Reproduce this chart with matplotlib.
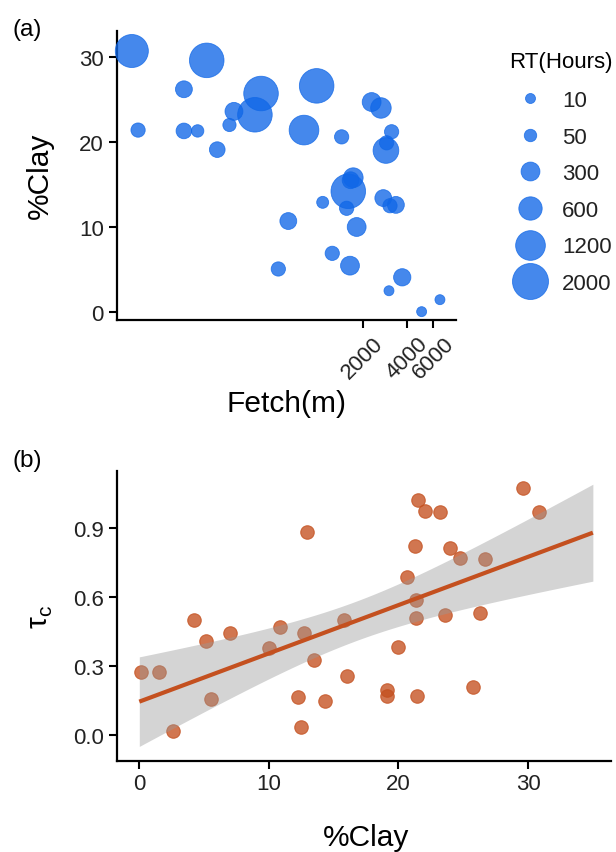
import numpy as np
import matplotlib
matplotlib.use("Agg")
import matplotlib.pyplot as plt
from matplotlib.lines import Line2D

plt.rcParams['font.family'] = ['Liberation Sans', 'DejaVu Sans']
plt.rcParams['mathtext.fontset'] = 'custom'
plt.rcParams['mathtext.rm'] = 'Liberation Sans'

# ---------------- data: panel (a) ----------------
fetch_m = [53.5, 173, 121, 405, 368, 265, 247, 59, 121, 150, 204, 968, 794, 1432,
           2291, 2650, 3133, 2898, 2866, 1718, 1648, 1589, 1064, 1549, 2750, 3054,
           3350, 621, 1812, 1236, 1632, 531, 3700, 3006, 6680, 5014]
clay_a = [30.7, 29.6, 26.2, 25.7, 23.2, 23.6, 22.0, 21.4, 21.3, 21.3, 19.1, 26.6,
          21.4, 20.6, 24.7, 24.0, 21.2, 19.9, 19.0, 15.8, 15.5, 14.2, 12.9, 12.2,
          13.4, 12.5, 12.6, 10.7, 10.0, 6.9, 5.45, 5.06, 4.08, 2.5, 1.45, 0.04]
rt_hours = [1600, 1800, 200, 1800, 1800, 250, 70, 100, 150, 50, 150, 1800, 1200,
            100, 300, 400, 100, 100, 800, 350, 200, 1800, 40, 100, 200, 100, 200,
            200, 300, 100, 300, 100, 220, 10, 10, 10]
legend_rt = [10, 50, 300, 600, 1200, 2000]
fetch_ticks = [2000, 4000, 6000]

# ---------------- data: panel (b) ----------------
clay_b = [0.10, 1.55, 2.63, 4.22, 5.12, 5.53, 7.0, 10.03, 10.86, 12.27, 12.48, 12.71,
          12.96, 13.45, 14.35, 15.8, 16.0, 19.08, 19.14, 19.98, 20.68, 21.27, 21.35,
          21.35, 21.45, 21.53, 22.04, 23.2, 23.61, 23.97, 24.74, 25.77, 26.29, 26.7,
          29.63, 30.86]
tau_c = [0.272, 0.272, 0.015, 0.501, 0.410, 0.156, 0.442, 0.378, 0.471, 0.163, 0.032,
         0.445, 0.885, 0.327, 0.145, 0.501, 0.254, 0.195, 0.170, 0.384, 0.686, 0.821,
         0.587, 0.509, 0.170, 1.023, 0.974, 0.969, 0.522, 0.812, 0.769, 0.206, 0.529,
         0.766, 1.074, 0.972]

W, H, DPI = 616, 853, 100
PX2PT = 72.0 / DPI

BLUE = '#1067E7'
RED = '#C4501F'
TICK_FS = 16
LABEL_FS = 21.5


def rt_diam_pt(v):
    return (8.0 + 0.626 * np.sqrt(np.asarray(v, dtype=float))) * PX2PT


fig = plt.figure(figsize=(W / DPI, H / DPI), dpi=DPI)


def fx(px):
    return px / W


def fy(py):
    return 1 - py / H


def style_axes(ax):
    for s in ['top', 'right']:
        ax.spines[s].set_visible(False)
    for s in ['left', 'bottom']:
        ax.spines[s].set_linewidth(1.6)
        ax.spines[s].set_color('black')
    ax.tick_params(axis='both', which='major', length=5.5, width=1.5,
                   labelsize=TICK_FS, colors='black', labelcolor='#222222')
    ax.tick_params(axis='y', pad=4)
    ax.tick_params(axis='x', pad=3.5)
    ax.tick_params(axis='both', which='minor', length=0)


# ---------------- panel (a) ----------------
a_l, a_r, a_t, a_b = 117, 456, 31.7, 320.7
ax1 = fig.add_axes([fx(a_l), fy(a_b), (a_r - a_l) / W, (a_b - a_t) / H])
d = rt_diam_pt(rt_hours)
ax1.scatter(fetch_m, clay_a, s=d ** 2, color=BLUE, alpha=0.78, linewidths=0.6,
            edgecolors=BLUE, clip_on=False, zorder=3)
ax1.set_xscale('log')
ax1.set_xlim(10 ** 1.6275, 10 ** 3.934)
ax1.set_ylim(-0.906, 33.09)
ax1.set_xticks(fetch_ticks)
ax1.set_xticklabels([str(t) for t in fetch_ticks], rotation=45, ha='center', va='top')
ax1.xaxis.set_minor_locator(matplotlib.ticker.NullLocator())
ax1.set_yticks([0, 10, 20, 30])
style_axes(ax1)
ax1.set_ylabel('%Clay', fontsize=LABEL_FS, va='center')
ax1.yaxis.set_label_coords((40 - a_l) / (a_r - a_l), 0.5)
ax1.set_xlabel('Fetch(m)', fontsize=LABEL_FS, va='center')
ax1.xaxis.set_label_coords(0.5, -(404.5 - a_b) / (a_b - a_t))

handles = [Line2D([], [], linestyle='none', marker='o', markersize=float(rt_diam_pt(v)),
                  markerfacecolor=BLUE, markeredgecolor=BLUE, alpha=0.78,
                  markeredgewidth=0.6) for v in legend_rt]
leg = ax1.legend(handles, [str(v) for v in legend_rt], title='RT(Hours)',
                 loc='upper left', bbox_to_anchor=(fx(509), fy(52)),
                 bbox_transform=fig.transFigure, frameon=False, fontsize=TICK_FS,
                 title_fontsize=TICK_FS, labelspacing=0.7, handletextpad=0.55,
                 handlelength=1.8, borderpad=0, borderaxespad=0)
leg._legend_box.sep = 13
for t in leg.get_texts():
    t.set_color('#222222')

fig.text(fx(12), fy(30), '(a)', fontsize=17.5, ha='left', va='center')

# ---------------- panel (b) ----------------
b_l, b_r, b_t, b_b = 116.7, 611, 471.7, 761.7
ax2 = fig.add_axes([fx(b_l), fy(b_b), (b_r - b_l) / W, (b_b - b_t) / H])
ax2.scatter(clay_b, tau_c, s=(13.5 * PX2PT) ** 2, color=RED, alpha=0.78,
            edgecolors=RED, linewidths=0.8, zorder=2)

x = np.asarray(clay_b)
y = np.asarray(tau_c)
n = len(x)
b1, b0 = np.polyfit(x, y, 1)
resid = y - (b0 + b1 * x)
s_err = np.sqrt(np.sum(resid ** 2) / (n - 2))
xg = np.linspace(0, 35, 200)
yg = b0 + b1 * xg
t_val = 2.032
se = s_err * np.sqrt(1.0 / n + (xg - x.mean()) ** 2 / np.sum((x - x.mean()) ** 2))
ax2.fill_between(xg, yg - t_val * se, yg + t_val * se, color='#999999', alpha=0.42,
                 linewidth=0, zorder=3)
ax2.plot(xg, yg, color=RED, linewidth=3.0, zorder=4, solid_capstyle='butt')

ax2.set_xlim(-1.744, 36.4)
ax2.set_ylim(-0.1133, 1.1508)
ax2.set_xticks([0, 10, 20, 30])
ax2.set_yticks([0.0, 0.3, 0.6, 0.9])
ax2.set_yticklabels(['0.0', '0.3', '0.6', '0.9'])
style_axes(ax2)
ax2.set_ylabel('τ$_{\\mathregular{c}}$', fontsize=LABEL_FS, va='center')
ax2.yaxis.set_label_coords((41 - b_l) / (b_r - b_l), 0.5)
ax2.set_xlabel('%Clay', fontsize=LABEL_FS, va='center')
ax2.xaxis.set_label_coords((366 - b_l) / (b_r - b_l), -(838 - b_b) / (b_b - b_t))

fig.text(fx(12), fy(461), '(b)', fontsize=17.5, ha='left', va='center')

fig.savefig('out.png', dpi=DPI)
